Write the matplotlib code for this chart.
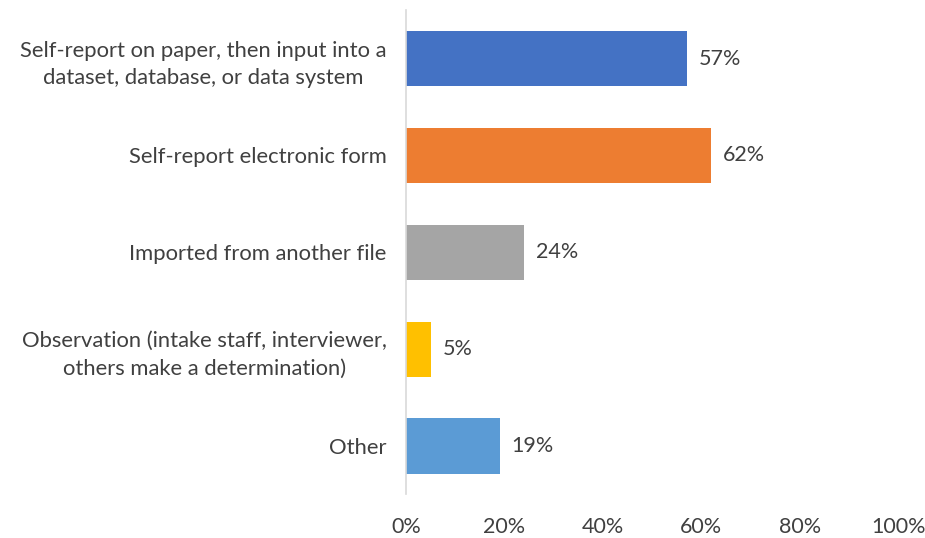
import matplotlib
matplotlib.use("Agg")
import matplotlib.pyplot as plt

# survey answers: how is the information collected
categories = [
    "Self-report on paper, then input into a\ndataset, database, or data system",
    "Self-report electronic form",
    "Imported from another file",
    "Observation (intake staff, interviewer,\nothers make a determination)",
    "Other",
]
values = [57, 62, 24, 5, 19]
colors = ["#4472C4", "#ED7D31", "#A5A5A5", "#FFC000", "#5B9BD5"]
xticks = [0, 20, 40, 60, 80, 100]

plt.rcParams["font.family"] = ["Lato", "DejaVu Sans"]
text_color = "#404040"

fig = plt.figure(figsize=(9.25, 5.38), dpi=100)
ax = fig.add_axes([0.439, 0.081, 0.532, 0.90])

pos = list(range(len(categories)))
ax.barh(pos, values, height=0.57, color=colors)

for y, v in zip(pos, values):
    ax.text(v + 2.4, y, f"{v}%", va="center", ha="left",
            fontsize=15.5, color=text_color)

ax.set_xlim(0, 100)
ax.set_ylim(4.5, -0.5)
ax.set_xticks(xticks)
ax.set_xticklabels([f"{t}%" for t in xticks], fontsize=15.5, color=text_color)
ax.set_yticks(pos)
ax.set_yticklabels(categories, fontsize=15.8, color=text_color,
                   ha="right", multialignment="center", linespacing=1.45)

for side in ["top", "right", "bottom"]:
    ax.spines[side].set_visible(False)
ax.spines["left"].set_color("#D9D9D9")
ax.spines["left"].set_linewidth(1.2)
ax.tick_params(axis="both", length=0)
ax.tick_params(axis="y", pad=14)
ax.tick_params(axis="x", pad=16)

plt.savefig("out.png", dpi=100)
